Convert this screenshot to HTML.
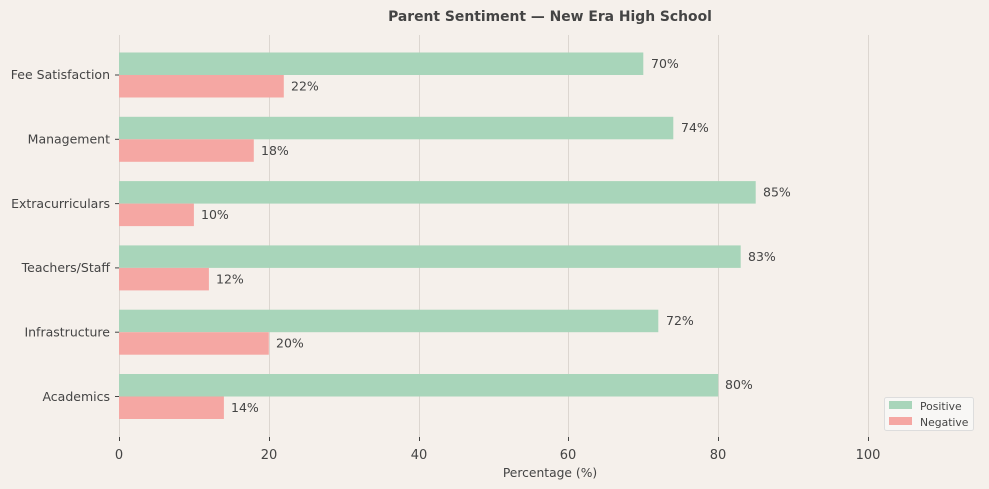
<!DOCTYPE html>
<html><head><meta charset="utf-8"><style>body{margin:0;background:#f5f0eb}svg{display:block}text{font-family:"DejaVu Sans","Liberation Sans",sans-serif;fill:#444}</style></head>
<body>
<svg width="989" height="489" xmlns="http://www.w3.org/2000/svg">
<rect width="989" height="489" fill="#f5f0eb"/>
<text x="550" y="21" text-anchor="middle" font-size="13.9" font-weight="bold">Parent Sentiment — New Era High School</text>
<g stroke="#dcd6d0" stroke-width="1">
<line x1="119.5" y1="35" x2="119.5" y2="437"/><line x1="269.5" y1="35" x2="269.5" y2="437"/><line x1="419.5" y1="35" x2="419.5" y2="437"/><line x1="568.5" y1="35" x2="568.5" y2="437"/><line x1="718.5" y1="35" x2="718.5" y2="437"/><line x1="868.5" y1="35" x2="868.5" y2="437"/>
</g>
<g stroke="#444" stroke-width="1">
<line x1="119.5" y1="437" x2="119.5" y2="441"/><line x1="269.5" y1="437" x2="269.5" y2="441"/><line x1="419.5" y1="437" x2="419.5" y2="441"/><line x1="568.5" y1="437" x2="568.5" y2="441"/><line x1="718.5" y1="437" x2="718.5" y2="441"/><line x1="868.5" y1="437" x2="868.5" y2="441"/>
<line x1="115" y1="75" x2="119" y2="75"/><line x1="115" y1="139.3" x2="119" y2="139.3"/><line x1="115" y1="203.6" x2="119" y2="203.6"/><line x1="115" y1="267.9" x2="119" y2="267.9"/><line x1="115" y1="332.2" x2="119" y2="332.2"/><line x1="115" y1="396.5" x2="119" y2="396.5"/>
</g>
<g font-size="13" text-anchor="middle">
<text x="119" y="459">0</text><text x="269" y="459">20</text><text x="419" y="459">40</text><text x="568" y="459">60</text><text x="718" y="459">80</text><text x="868" y="459">100</text>
</g>
<text x="550" y="477" text-anchor="middle" font-size="12.3">Percentage (%)</text>
<g font-size="12.5" text-anchor="end">
<text x="110" y="79">Fee Satisfaction</text><text x="110" y="143.5">Management</text><text x="110" y="208">Extracurriculars</text><text x="110" y="272">Teachers/Staff</text><text x="110" y="336.5">Infrastructure</text><text x="110" y="401">Academics</text>
</g>
<g fill="#a8d5ba">
<rect x="119" y="52.5" width="524.3" height="22.5"/><rect x="119" y="116.8" width="554.3" height="22.5"/><rect x="119" y="181.1" width="636.7" height="22.5"/><rect x="119" y="245.4" width="621.7" height="22.5"/><rect x="119" y="309.7" width="539.3" height="22.5"/><rect x="119" y="374" width="599.2" height="22.5"/>
</g>
<g fill="#f5a7a3">
<rect x="119" y="75" width="164.8" height="22.5"/><rect x="119" y="139.3" width="134.8" height="22.5"/><rect x="119" y="203.6" width="74.9" height="22.5"/><rect x="119" y="267.9" width="89.9" height="22.5"/><rect x="119" y="332.2" width="149.8" height="22.5"/><rect x="119" y="396.5" width="104.9" height="22.5"/>
</g>
<g font-size="12.5">
<text x="651" y="68">70%</text><text x="291" y="90.5">22%</text>
<text x="681" y="132">74%</text><text x="261" y="155">18%</text>
<text x="763" y="196.5">85%</text><text x="201" y="219">10%</text>
<text x="748" y="261">83%</text><text x="216" y="283.5">12%</text>
<text x="666" y="325">72%</text><text x="276" y="347.5">20%</text>
<text x="725" y="389">80%</text><text x="231" y="412">14%</text>
</g>
<rect x="884.5" y="397.5" width="89" height="33" rx="2" fill="#f8f7f5" stroke="#ddd"/>
<rect x="889" y="401" width="23" height="8" fill="#a8d5ba"/>
<rect x="889" y="417" width="23" height="8" fill="#f5a7a3"/>
<g font-size="10.8"><text x="920" y="410">Positive</text><text x="920" y="426">Negative</text></g>
</svg>
</body></html>
